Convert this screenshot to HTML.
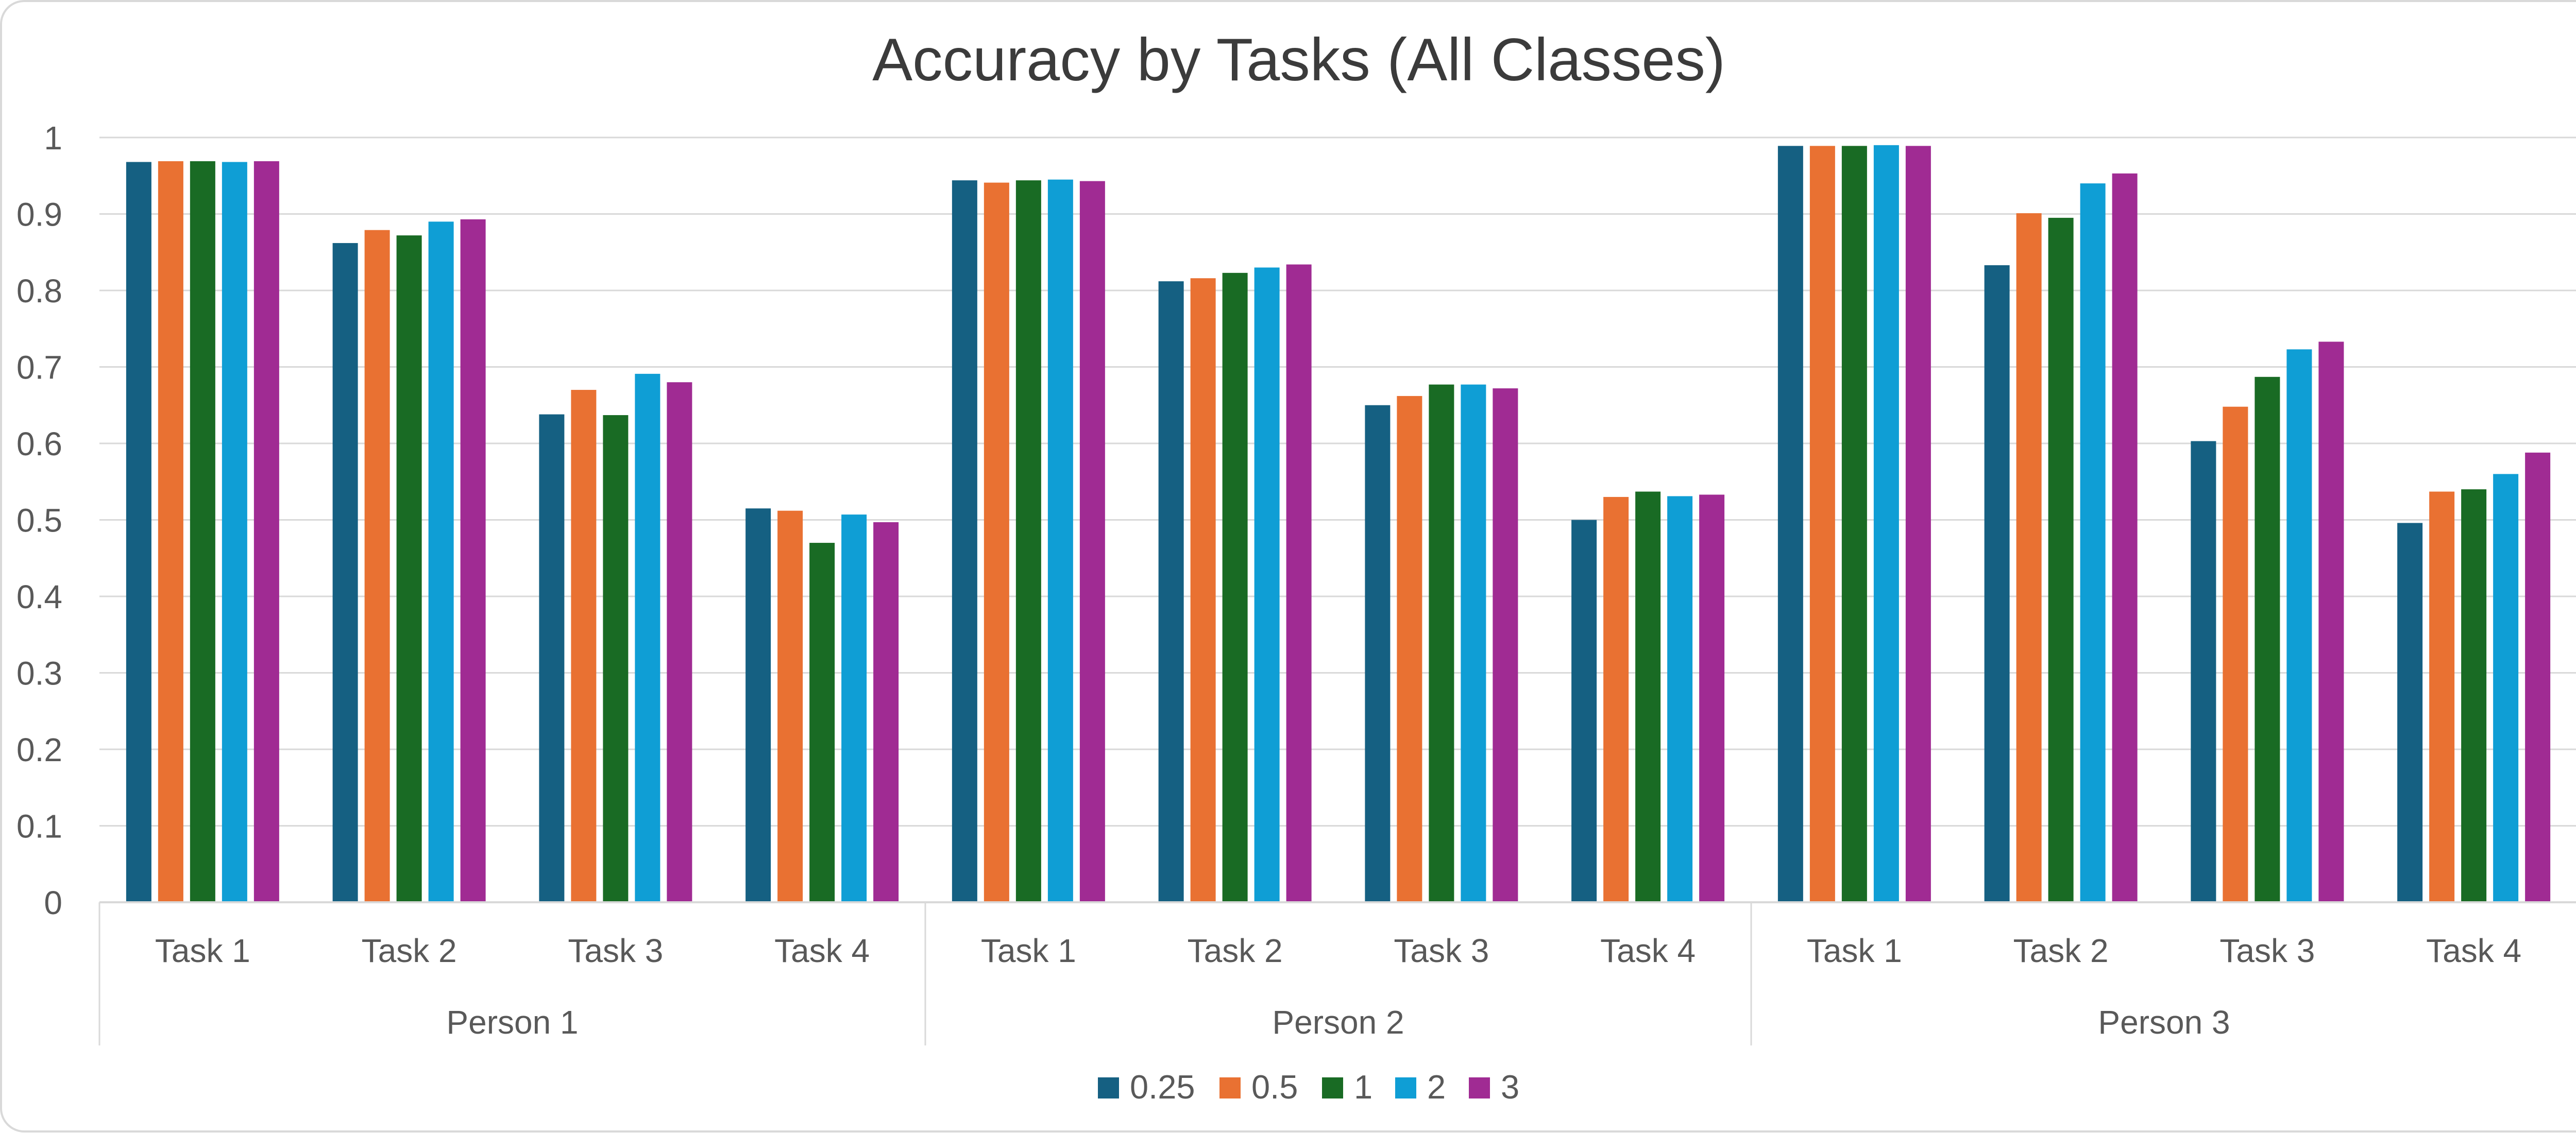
<!DOCTYPE html>
<html><head><meta charset="utf-8"><style>
html,body{margin:0;padding:0;background:#fff;}
svg{display:block;font-family:"Liberation Sans",sans-serif;}
</style></head><body>
<svg id="chart" width="5053" height="2200" viewBox="0 0 5053 2200" xmlns="http://www.w3.org/2000/svg">
<rect x="2" y="2" width="5049" height="2195" rx="45" ry="45" fill="#fff" stroke="#d9d9d9" stroke-width="4"/>
<text x="2521" y="156" text-anchor="middle" font-size="117" fill="#3b3b3b">Accuracy by Tasks (All Classes)</text>
<g id="grid"></g><g id="bars"></g><g id="axes"></g><g id="legend"></g>
</svg>
<script>
const persons = ["Person 1","Person 2","Person 3"];
const tasks = ["Task 1","Task 2","Task 3","Task 4"];
const seriesNames = ["0.25","0.5","1","2","3"];
const s025 = [0.968,0.862,0.638,0.515, 0.944,0.812,0.650,0.500, 0.989,0.833,0.603,0.496];
const s05  = [0.969,0.879,0.670,0.512, 0.941,0.816,0.662,0.530, 0.989,0.901,0.648,0.537];
const s1   = [0.969,0.872,0.637,0.470, 0.944,0.823,0.677,0.537, 0.989,0.895,0.687,0.540];
const s2   = [0.968,0.890,0.691,0.507, 0.945,0.830,0.677,0.531, 0.990,0.940,0.723,0.560];
const s3   = [0.969,0.893,0.680,0.497, 0.943,0.834,0.672,0.533, 0.989,0.953,0.733,0.588];
const yTicks = [0,0.1,0.2,0.3,0.4,0.5,0.6,0.7,0.8,0.9,1];
const yTickLabels = ["0","0.1","0.2","0.3","0.4","0.5","0.6","0.7","0.8","0.9","1"];

const series = [s025,s05,s1,s2,s3];
const colors = ["#156082","#E97132","#196B24","#0F9ED5","#A02B93"];
const NS="http://www.w3.org/2000/svg";
const L=193, R=5002, Y0=1752, Y1=267;
const nCat = persons.length*tasks.length;
const catW=(R-L)/nCat;
function y(v){return Y0-(Y0-Y1)*v;}
function xCat(i){return L+catW*(i+0.5);}
function mk(tag,attrs,parent){const e=document.createElementNS(NS,tag);for(const k in attrs)e.setAttribute(k,attrs[k]);parent.appendChild(e);return e;}
const grid=document.getElementById('grid'),bars=document.getElementById('bars'),axes=document.getElementById('axes'),legend=document.getElementById('legend');
yTicks.forEach((t,i)=>{
  if(t>0){const g=mk('line',{x1:L,x2:R,y1:y(t),y2:y(t),stroke:'#d9d9d9','stroke-width':3},grid);
  
  }
  const tx=mk('text',{x:121,y:y(t)+23,'text-anchor':'end','font-size':64,fill:'#595959'},axes);
  tx.textContent=yTickLabels[i];
  
  
});
const bw=49,pitch=62;
for(let c=0;c<nCat;c++){
  for(let s=0;s<series.length;s++){
    const v=series[s][c];
    const x=xCat(c)+(s-2)*pitch-bw/2;
    const b=mk('rect',{x:x,y:y(v),width:bw,height:Y0-y(v),fill:colors[s]},bars);
    
    
  }
  const t=mk('text',{x:xCat(c),y:1868,'text-anchor':'middle','font-size':64,fill:'#595959'},axes);
  t.textContent=tasks[c%tasks.length];
  
  
}
const ax=mk('line',{x1:L,x2:R,y1:Y0,y2:Y0,stroke:'#d9d9d9','stroke-width':4},axes);


const gw=(R-L)/persons.length;
for(let p=0;p<=persons.length;p++){
  const xx=L+gw*p;
  const ln=mk('line',{x1:xx,x2:xx,y1:Y0,y2:2030,stroke:'#d9d9d9','stroke-width':3},axes);
  
  
}
persons.forEach((pn,p)=>{
  const t=mk('text',{x:L+gw*(p+0.5),y:2007,'text-anchor':'middle','font-size':64,fill:'#595959'},axes);
  t.textContent=pn;
  
  
});
const legX=[2131,2367,2566,2708,2851];
seriesNames.forEach((n,i)=>{
  const g=mk('g',{},legend);
  
  
  mk('rect',{x:legX[i],y:2092,width:41,height:41,fill:colors[i]},g);
  const t=mk('text',{x:legX[i]+62,y:2133,'font-size':65,fill:'#595959'},g);
  t.textContent=n;
});
</script>
</body></html>
